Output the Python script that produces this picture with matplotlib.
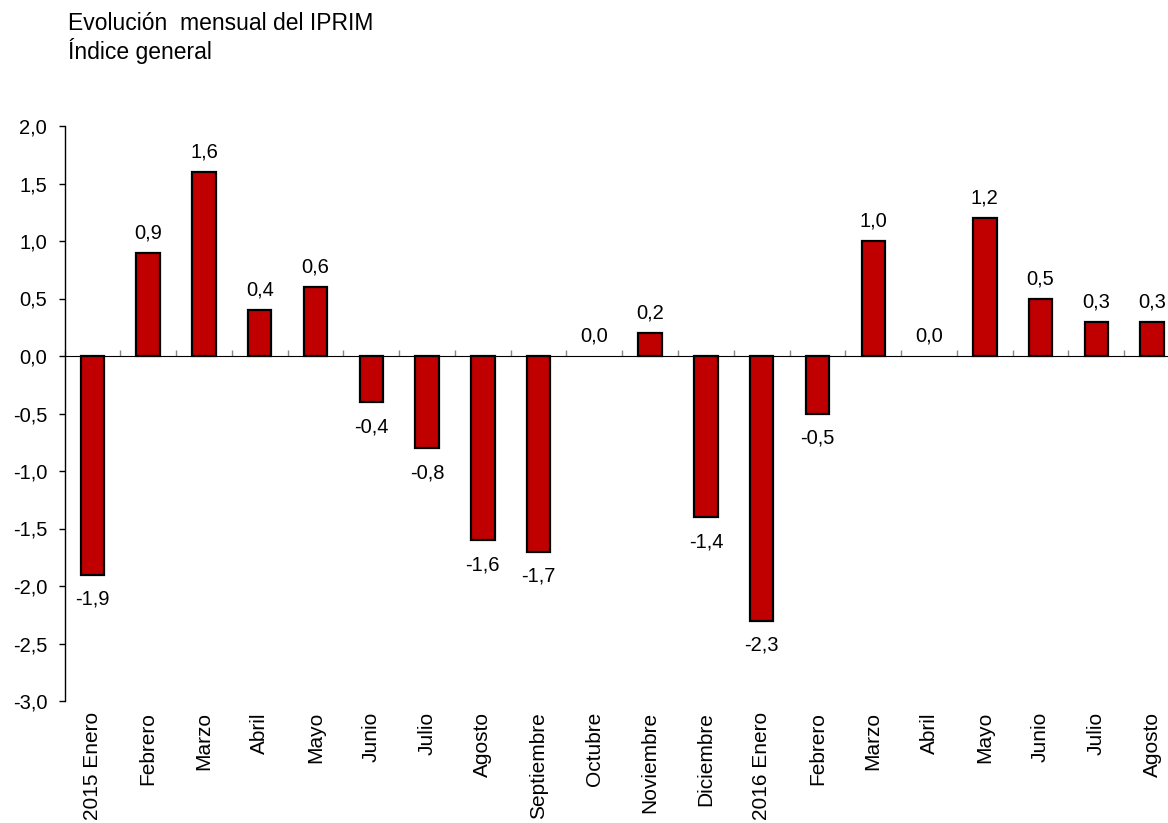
import matplotlib
matplotlib.use("Agg")
import matplotlib.pyplot as plt
import numpy as np

plt.rcParams['font.family'] = ['Liberation Sans', 'DejaVu Sans']

# datos
meses = ["2015 Enero", "Febrero", "Marzo", "Abril", "Mayo", "Junio", "Julio",
         "Agosto", "Septiembre", "Octubre", "Noviembre", "Diciembre",
         "2016 Enero", "Febrero", "Marzo", "Abril", "Mayo", "Junio", "Julio",
         "Agosto"]
valores = [-1.9, 0.9, 1.6, 0.4, 0.6, -0.4, -0.8, -1.6, -1.7, 0.0, 0.2, -1.4,
           -2.3, -0.5, 1.0, 0.0, 1.2, 0.5, 0.3, 0.3]
y_ticks = [-3.0, -2.5, -2.0, -1.5, -1.0, -0.5, 0.0, 0.5, 1.0, 1.5, 2.0]

W, H = 1168, 823
fig = plt.figure(figsize=(W / 100, H / 100), dpi=100)
# el eje se sale por la derecha, como en el original
ax = fig.add_axes([64.5 / W, 1 - 701 / H, (1180 - 64.5) / W, (701 - 126) / H])

x = np.arange(len(meses))
# las barras de valor cero no se ven en el original
bordes = [1.6 if v != 0 else 0 for v in valores]
ax.bar(x, valores, width=0.42, color="#C00000", edgecolor="black",
       linewidth=bordes, zorder=3)

ax.set_xlim(-0.5, len(meses) - 0.5)
ax.set_ylim(-3.0, 2.0)

fs = 14.5

# etiquetas de valor
for xi, v in zip(x, valores):
    txt = f"{v:.1f}".replace(".", ",")
    if v >= 0:
        ax.annotate(txt, (xi, v), xytext=(0, 7.5), textcoords="offset points",
                    ha="center", va="bottom", fontsize=fs)
    else:
        ax.annotate(txt, (xi, v), xytext=(0, -11), textcoords="offset points",
                    ha="center", va="top", fontsize=fs)

# eje y
ax.set_yticks(y_ticks)
ax.set_yticklabels([f"{t:.1f}".replace(".", ",") for t in y_ticks], fontsize=fs)
ax.tick_params(axis="y", direction="out", length=4.5, width=1, pad=8, color="black")
for s in ["top", "right", "bottom"]:
    ax.spines[s].set_visible(False)
ax.spines["left"].set_linewidth(1)

# etiquetas de mes abajo
ax.set_xticks(x)
ax.set_xticklabels(meses, rotation=90, fontsize=15)
ax.tick_params(axis="x", length=0, pad=8)

# linea del cero con marcas entre categorias
sec = ax.secondary_xaxis(3.0 / 5.0)
sec.set_xticks(np.arange(len(meses) + 1) - 0.5)
sec.set_xticklabels([])
sec.tick_params(axis="x", direction="out", length=4.5, width=1, color="#888888")
sec.spines["bottom"].set_linewidth(1.2)

fig.text(68 / W, 1 - 30 / H, "Evolución  mensual del IPRIM", fontsize=16.5,
         ha="left", va="baseline")
fig.text(68 / W, 1 - 59 / H, "Índice general", fontsize=16.5,
         ha="left", va="baseline")

fig.savefig("out.png", dpi=100)
